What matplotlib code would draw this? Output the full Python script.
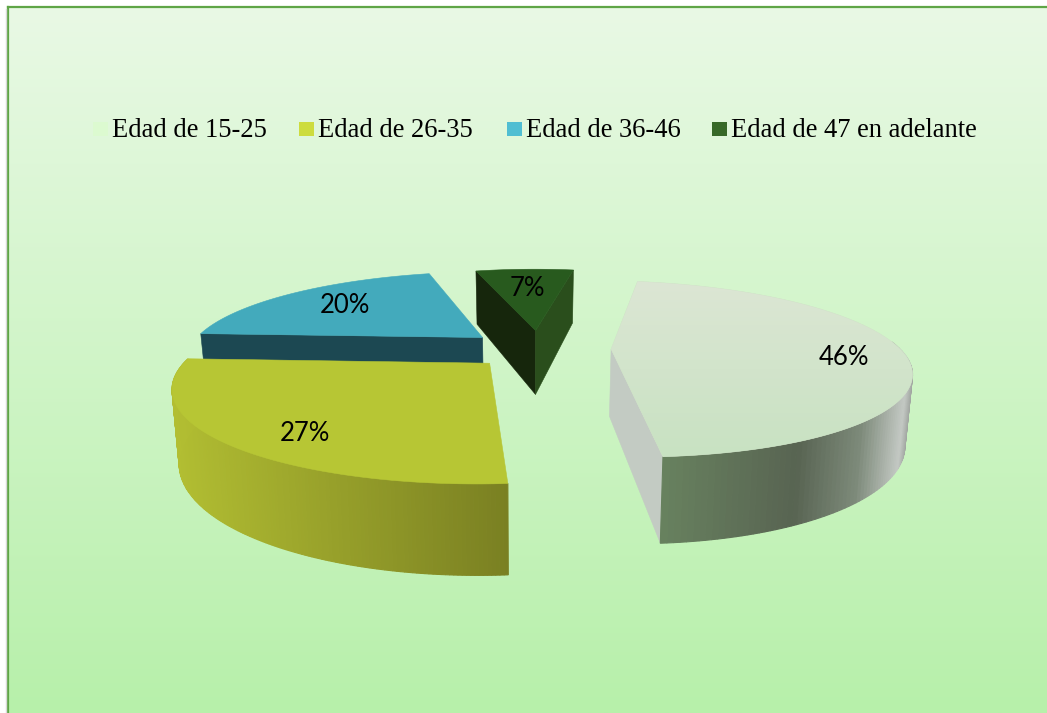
import matplotlib
matplotlib.use("Agg")
import matplotlib.pyplot as plt
from matplotlib.colors import to_rgb
import numpy as np

# Datos
categorias = ["Edad de 15-25", "Edad de 26-35", "Edad de 36-46", "Edad de 47 en adelante"]
valores = [46, 27, 20, 7]

# Colores
color_leyenda = ["#dcfad0", "#cddc3e", "#50bed2", "#376928"]
color_arriba = ["#d0e2c8", "#b7c634", "#43aabc", "#285a1e"]
color_inicio = ["#c3cbc3", "#7a8022", "#1c4852", "#16260c"]
color_fin = ["#c3cbc3", "#7a8022", "#1c4852", "#2a4e1c"]
borde_x = {0: ([0.0, 0.55, 0.8, 0.97, 1.0], ["#68825f", "#586452", "#7d8a7a", "#c4c9c4", "#a0a5a0"]),
           1: ([0.0, 1.0], ["#b2be32", "#7a8022"])}

# Vista del pastel (perspectiva)
cx, cy = 530, 348
R, qR = 294, 85
k = 0.228
alto = 67
giro = 10
explode_u = [0.275, -0.132, -0.166, 0.02]
explode_v = [-0.013, -0.172, 0.127, 0.215]
radio = [0.98, 1.0, 1.0, 0.96]
label_r = [0.78, 0.72, 0.70, 0.70]
label_dy = [5, 16, 0, 5]
orden = [2, 3, 1, 0]


def proyectar(u, v, abajo=False):
    w = 1 + k * v
    sx = R * u / w
    sy = -qR * v / w
    if abajo:
        return cx + 0.98 * sx, cy + sy + alto / w
    return cx + sx, cy + sy


def punto(ang, r, i):
    u = explode_u[i] + r * np.sin(ang)
    v = explode_v[i] + r * np.cos(ang)
    return u, v


fig = plt.figure(figsize=(10.47, 7.13), dpi=100)
ax = fig.add_axes([0, 0, 1, 1])
ax.axis("off")

# Fondo
g = np.linspace(0, 1, 256)[:, None, None]
fondo = (1 - g) * np.array(to_rgb("#e9f9e5")) + g * np.array(to_rgb("#b7f0aa"))
ax.imshow(fondo, extent=[8, 1047, 713, 7], aspect="auto", zorder=0)
ax.plot([8, 8], [713, 7], color="#5fa546", lw=1.6, zorder=1)
ax.plot([8, 1047], [7, 7], color="#5fa546", lw=1.6, zorder=1)
ax.plot([6, 6], [713, 9], color="#d8d8d8", lw=1, zorder=1)

# Sectores
angulos = np.cumsum([0] + valores) / sum(valores) * 360 + giro
z = 2
for i in orden:
    a0, a1 = np.radians(angulos[i]), np.radians(angulos[i + 1])
    medio = (a0 + a1) / 2
    t = np.linspace(a0, a1, 160)
    u, v = punto(t, radio[i], i)
    u0, v0 = punto(0, 0, i)
    xa, ya = proyectar(u, v)
    xb, yb = proyectar(u, v, True)
    x0, y0 = proyectar(u0, v0)
    x0b, y0b = proyectar(u0, v0, True)

    # caras radiales, solo las que miran al frente
    if np.sin(a0) < 0:
        ax.fill([x0, xa[0], xb[0], x0b], [y0, ya[0], yb[0], y0b], color=color_inicio[i], lw=0.4, zorder=z)
    if np.sin(a1) > 0:
        ax.fill([x0, xa[-1], xb[-1], x0b], [y0, ya[-1], yb[-1], y0b], color=color_fin[i], lw=0.4, zorder=z)

    # borde curvo, con degradado
    frente = np.cos(t) < 0.1
    if frente.any() and i in borde_x:
        pasos, tonos = borde_x[i]
        rgb = np.array([to_rgb(c) for c in tonos])
        xmin, xmax = xb[frente].min(), xb[frente].max()
        for j in range(len(t) - 1):
            if not frente[j]:
                continue
            f = np.clip((xb[j] - xmin) / (xmax - xmin), 0, 1)
            col = [np.interp(f, pasos, rgb[:, c]) for c in range(3)]
            ax.fill([xa[j], xa[j + 1], xb[j + 1], xb[j]], [ya[j], ya[j + 1], yb[j + 1], yb[j]],
                    color=col, lw=0.8, zorder=z)

    # cara superior
    cara = ax.fill(np.r_[x0, xa], np.r_[y0, ya], color=color_arriba[i], lw=0.4, zorder=z + 1)[0]
    if i == 0:
        h = np.linspace(0, 1, 64)[:, None, None]
        tono = (1 - h) * np.array(to_rgb("#dce6d4")) + h * np.array(to_rgb("#c8e2c2"))
        im = ax.imshow(tono, extent=[xa.min() - 45, xa.max(), ya.max(), ya.min()], aspect="auto", zorder=z + 1)
        im.set_clip_path(cara)

    # etiqueta
    ul, vl = punto(medio, label_r[i], i)
    xl, yl = proyectar(ul, vl)
    ax.text(xl - (4 if i == 1 else 0), yl + label_dy[i], f"{valores[i]}%", family="Lato", fontsize=18.5,
            ha="center", va="center", color="black", zorder=20)
    z += 2

ax.set_xlim(0, 1047)
ax.set_ylim(713, 0)

# Leyenda
x_marca = [93, 299, 507, 712]
for i, nombre in enumerate(categorias):
    ax.fill([x_marca[i], x_marca[i] + 15, x_marca[i] + 15, x_marca[i]], [122, 122, 136, 136],
            color=color_leyenda[i], lw=0, zorder=3)
    ax.text(x_marca[i] + 19, 130.5, nombre, family="Liberation Serif", fontsize=19.1,
            ha="left", va="center", color="black", zorder=3)

fig.savefig("out.png", dpi=100)
